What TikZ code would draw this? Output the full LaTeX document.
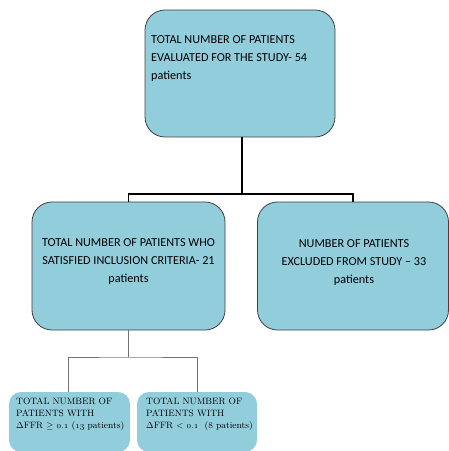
\documentclass[tikz,border=0pt]{standalone}
\usepackage{fontspec}
\newfontfamily\carl[Ligatures=TeX]{Carlito}
\newcommand{\osn}[1]{$\mathnormal{#1}$}
\begin{document}
\begin{tikzpicture}[x=1bp,y=-1bp,
  box/.style={draw=black!75, line width=0.8bp, fill=boxblue, rounded corners=20bp, inner sep=0pt},
  smallbox/.style={fill=boxblue, rounded corners=12bp, inner sep=0pt},
  bigtxt/.style={inner sep=0pt, font=\carl\fontsize{12.2bp}{18bp}\selectfont},
  smalltxt/.style={inner sep=0pt, align=left, font=\fontsize{9.2bp}{12bp}\selectfont},
  mainline/.style={line width=1.3bp, black},
  subline/.style={line width=1bp, black!55}]
\definecolor{boxblue}{RGB}{146,205,220}
\useasboundingbox (0,0) rectangle (449,451);
% boxes
\node[box, minimum width=190bp, minimum height=127bp] (top) at (240,73.5) {};
\node[box, minimum width=193bp, minimum height=128bp] (midL) at (128.5,266) {};
\node[box, minimum width=191bp, minimum height=128bp] (midR) at (353,266) {};
\node[smallbox, minimum width=121bp, minimum height=60bp] (botL) at (69.5,422) {};
\node[smallbox, minimum width=120bp, minimum height=60bp] (botR) at (197,422) {};
% texts
\node[bigtxt, align=left, anchor=north west] (ttop) at (151,35) {TOTAL NUMBER OF PATIENTS\\EVALUATED FOR THE STUDY- 54\\patients};
\node[bigtxt, align=center] (tmidL) at (128.5,262) {TOTAL NUMBER OF PATIENTS WHO\\SATISFIED INCLUSION CRITERIA- 21\\patients};
\node[bigtxt, align=center] (tmidR) at (354,263) {NUMBER OF PATIENTS\\EXCLUDED FROM STUDY -- 33\\patients};
\node[smalltxt, anchor=north west] (tbotL) at (16,398) {TOTAL NUMBER OF\\PATIENTS WITH\\$\Delta$FFR $\geq$ \osn{0.1} (\osn{13} patients)};
\node[smalltxt, anchor=north west] (tbotR) at (146,398) {TOTAL NUMBER OF\\PATIENTS WITH\\$\Delta$FFR $<$ \osn{0.1}\ \ (\osn{8} patients)};
% connectors
\coordinate (j1) at (242,194);
\draw[mainline] (top.south -| j1) -- (j1);
\draw[mainline] (midL.north) |- (j1) -| (midR.north);
\coordinate (j2) at (128.5,357);
\draw[subline] (midL.south) -- (j2);
\draw[subline] (68,392) |- (j2) -| (197,392);
\end{tikzpicture}
\end{document}
